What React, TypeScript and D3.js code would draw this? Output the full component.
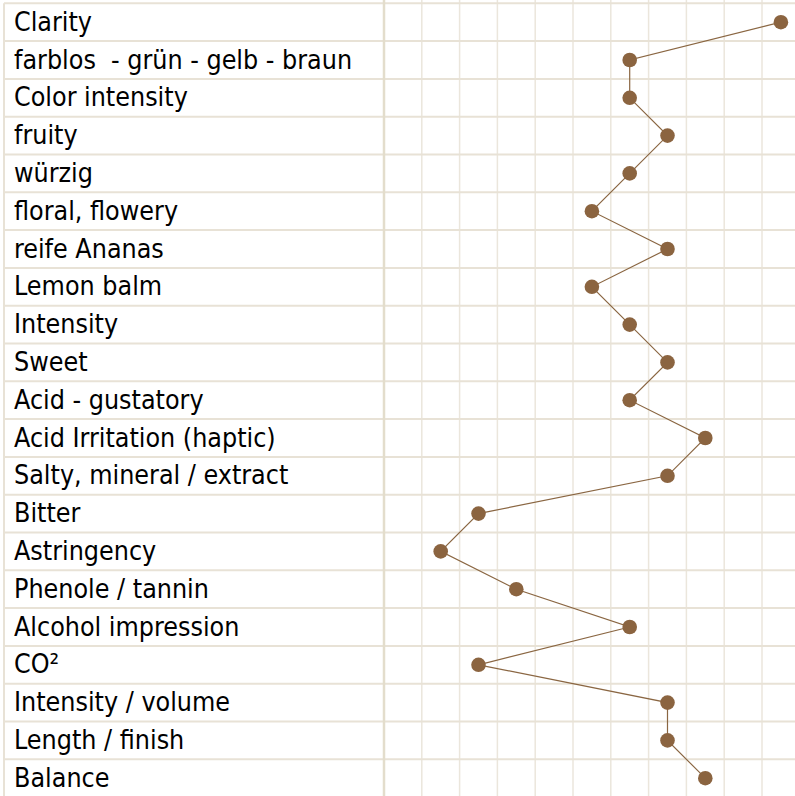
import React, { useEffect, useRef } from 'react';
import * as d3 from 'd3';

const attributes = [
  'Clarity',
  'farblos  - grün - gelb - braun',
  'Color intensity',
  'fruity',
  'würzig',
  'floral, flowery',
  'reife Ananas',
  'Lemon balm',
  'Intensity',
  'Sweet',
  'Acid - gustatory',
  'Acid Irritation (haptic)',
  'Salty, mineral / extract',
  'Bitter',
  'Astringency',
  'Phenole / tannin',
  'Alcohol impression',
  'CO²',
  'Intensity / volume',
  'Length / finish',
  'Balance',
];

const scores = [11, 7, 7, 8, 7, 6, 8, 6, 7, 8, 7, 9, 8, 3, 2, 4, 7, 3, 8, 8, 9];

const scaleSteps = d3.range(1, 12);

const App = () => {
  const svgRef = useRef(null);

  useEffect(() => {
    const width = 795;
    const height = 796;
    const cell = 37.8;
    const top = 3.3;
    const labelLeft = 4;
    const gridLeft = 384;

    const svg = d3.select(svgRef.current)
      .attr('width', width)
      .attr('height', height);
    svg.selectAll('*').remove();

    const y = d3.scaleBand()
      .domain(attributes)
      .range([top, top + attributes.length * cell]);

    const x = d3.scaleBand()
      .domain(scaleSteps.map(String))
      .range([gridLeft, gridLeft + scaleSteps.length * cell]);

    const grid = svg.append('g');

    // vertical grid lines
    grid.selectAll('line.v')
      .data(scaleSteps.slice(1))
      .enter()
      .append('line')
      .attr('x1', d => x(String(d)))
      .attr('x2', d => x(String(d)))
      .attr('y1', 0)
      .attr('y2', height)
      .attr('stroke', '#ebe6dc')
      .attr('stroke-width', 1.5);

    // horizontal row lines
    grid.selectAll('line.h')
      .data(attributes)
      .enter()
      .append('line')
      .attr('x1', labelLeft)
      .attr('x2', width)
      .attr('y1', d => y(d))
      .attr('y2', d => y(d))
      .attr('stroke', '#e8e2d6')
      .attr('stroke-width', 2);

    grid.append('line')
      .attr('x1', labelLeft).attr('x2', labelLeft)
      .attr('y1', top).attr('y2', height)
      .attr('stroke', '#e8e2d6')
      .attr('stroke-width', 2);

    grid.append('line')
      .attr('x1', gridLeft).attr('x2', gridLeft)
      .attr('y1', 0).attr('y2', height)
      .attr('stroke', '#e3ddcc')
      .attr('stroke-width', 2.5);

    const fs = 26.6;
    svg.append('g')
      .selectAll('text')
      .data(attributes)
      .enter()
      .append('text')
      .attr('x', 14)
      .attr('y', d => y(d) + y.bandwidth() / 2 + fs * 0.32)
      .attr('xml:space', 'preserve')
      .style('white-space', 'pre')
      .style('font-family', '"DejaVu Sans Condensed", "DejaVu Sans", sans-serif')
      .style('font-stretch', 'condensed')
      .style('font-size', fs + 'px')
      .style('fill', '#000')
      .text(d => d);

    const points = attributes.map((a, i) => [
      x(String(scores[i])) + x.bandwidth() / 2,
      y(a) + y.bandwidth() / 2,
    ]);

    svg.append('path')
      .attr('d', d3.line()(points))
      .attr('fill', 'none')
      .attr('stroke', '#8a6642')
      .attr('stroke-width', 1.2);

    svg.selectAll('circle')
      .data(points)
      .enter()
      .append('circle')
      .attr('cx', d => d[0])
      .attr('cy', d => d[1])
      .attr('r', 7.3)
      .style('fill', '#8b6440');
  }, []);

  return (
    <svg
      ref={svgRef}
      style={{ position: 'absolute', left: 0, top: 0, display: 'block' }}
    ></svg>
  );
};

export default App;
